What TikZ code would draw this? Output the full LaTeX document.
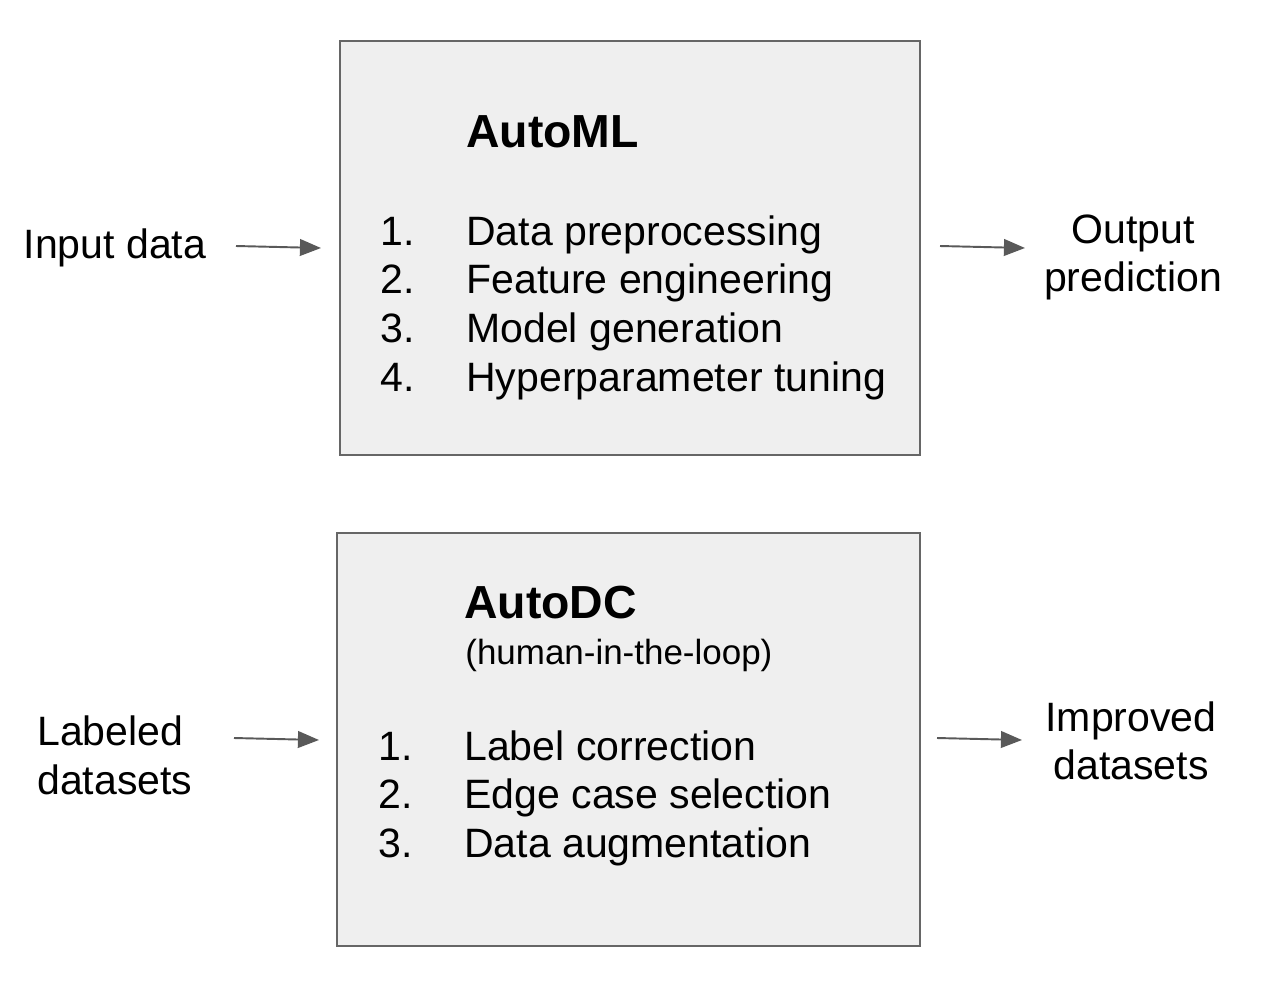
\documentclass[tikz,border=0pt]{standalone}
\usepackage{fontspec}
\setmainfont{Liberation Sans}
\usetikzlibrary{arrows.meta}
\definecolor{boxfill}{HTML}{EFEFEF}
\definecolor{boxline}{HTML}{666666}
\definecolor{arrowgray}{HTML}{595959}
\tikzset{
  panel/.style={draw=boxline,line width=1.2pt,fill=boxfill},
  txt/.style={anchor=base west,inner sep=0pt,font=\fontsize{23.35}{28}\selectfont},
  ctxt/.style={anchor=base,inner sep=0pt,font=\fontsize{23.35}{28}\selectfont},
  title/.style={anchor=base west,inner sep=0pt,font=\fontsize{26.4}{30}\selectfont\bfseries},
  note/.style={anchor=base west,inner sep=0pt,font=\fontsize{19.9}{24}\selectfont},
  flow/.style={draw=arrowgray,line width=1.1pt,-{Triangle[length=12pt,width=9.5pt]}}
}

\begin{document}
\begin{tikzpicture}[x=0.02cm,y=-0.02cm]
		\useasboundingbox (0,0) rectangle (1274,984);
		% boxes
		\draw[panel] (340,41) rectangle (920,455);
		\draw[panel] (337,533) rectangle (920,946);
		% AutoML
		\node[title] (ml) at (466,147) {AutoML};
		\foreach \n/\t [count=\i] in {1/Data preprocessing,2/Feature engineering,3/Model generation,4/Hyperparameter tuning}{
			\node[txt] (mlnum\i) at (380,245+48.7*\i-48.7) {\n.};
			\node[txt] (mlstep\i) at (466,245+48.7*\i-48.7) {\t};
		}
		% AutoDC
		\node[title] (dc) at (464,618) {AutoDC};
		\node[note] (hitl) at (465,664) {(human-in-the-loop)};
		\foreach \n/\t [count=\i] in {1/Label correction,2/Edge case selection,3/Data augmentation}{
			\node[txt] (dcnum\i) at (378,760+48.7*\i-48.7) {\n.};
			\node[txt] (dcstep\i) at (464,760+48.7*\i-48.7) {\t};
		}
		% inputs and outputs
		\node[ctxt] (in1) at (115,258) {Input data};
		\node[ctxt] (out1a) at (1133,243) {Output};
		\node[ctxt] (out1b) at (1133,291) {prediction};
		\node[txt] (in2a) at (37,745) {Labeled};
		\node[txt] (in2b) at (37,794) {datasets};
		\node[ctxt] (out2a) at (1131,731) {Improved};
		\node[ctxt] (out2b) at (1131,779) {datasets};
		% arrows
		\coordinate (a1) at (236,246);
		\coordinate (b1) at (321,248);
		\coordinate (a2) at (940,246);
		\coordinate (b2) at (1025,248);
		\coordinate (a3) at (234,738);
		\coordinate (b3) at (319,740);
		\coordinate (a4) at (937,738);
		\coordinate (b4) at (1022,740);
		\draw[flow] (a1) -- (b1);
		\draw[flow] (a2) -- (b2);
		\draw[flow] (a3) -- (b3);
		\draw[flow] (a4) -- (b4);
\end{tikzpicture}
\end{document}
